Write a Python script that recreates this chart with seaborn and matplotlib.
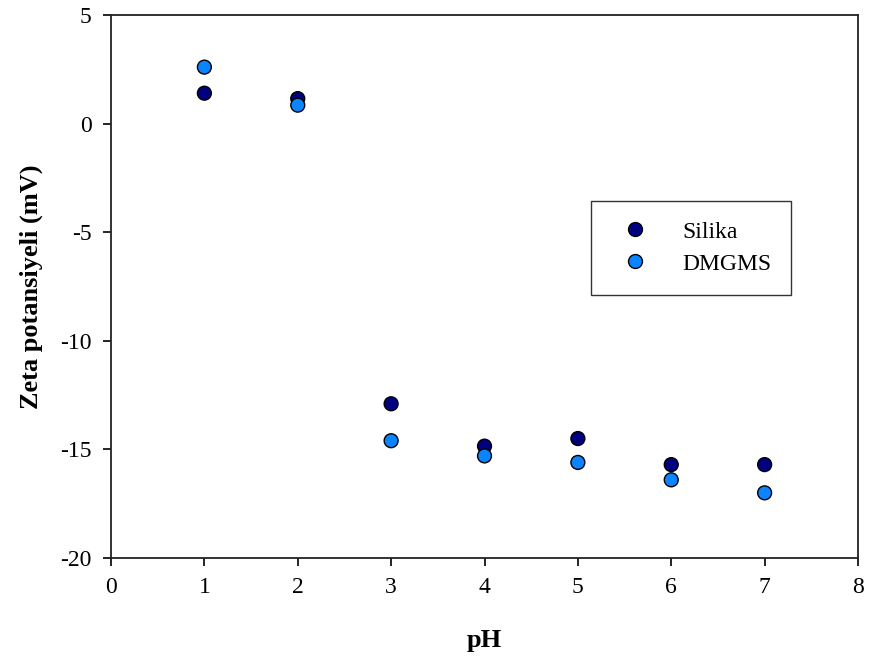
import matplotlib
matplotlib.use("Agg")
import matplotlib.pyplot as plt
import seaborn as sns
import pandas as pd

ph = [1, 2, 3, 4, 5, 6, 7]
silika = [1.4, 1.15, -12.9, -14.85, -14.5, -15.7, -15.7]
dmgms = [2.6, 0.85, -14.6, -15.3, -15.6, -16.4, -17.0]
series_names = ["Silika", "DMGMS"]
colors = {"Silika": "#000080", "DMGMS": "#0A84FF"}

df = pd.concat([
    pd.DataFrame({"pH": ph, "zeta": silika, "sample": "Silika"}),
    pd.DataFrame({"pH": ph, "zeta": dmgms, "sample": "DMGMS"}),
])

sns.set_theme(style="white")
plt.rcParams["font.family"] = ["Liberation Serif", "DejaVu Serif"]
plt.rcParams["axes.unicode_minus"] = False
plt.rcParams["text.color"] = "black"
plt.rcParams["axes.labelcolor"] = "black"

fig = plt.figure(figsize=(8.73, 6.62), dpi=100)
ax = fig.add_axes([111 / 873, 1 - 558 / 662, (858 - 111) / 873, (558 - 15) / 662])

sns.scatterplot(data=df, x="pH", y="zeta", hue="sample", hue_order=series_names,
                palette=colors, s=100, edgecolor="black", linewidth=1.0,
                ax=ax, zorder=3)

ax.set_xlim(0, 8)
ax.set_ylim(-20, 5)
ax.set_xticks(range(0, 9))
ax.set_yticks(range(-20, 6, 5))
ax.tick_params(axis="both", which="both", direction="out", length=6, width=1.2,
               labelsize=17, colors="black", top=False, right=False, pad=8)
ax.tick_params(axis="both", bottom=True, left=True)
for sp in ax.spines.values():
    sp.set_color("#222222")
    sp.set_linewidth(1.3)

ax.set_xlabel("pH", fontsize=19, fontweight="bold", labelpad=22)
ax.set_ylabel("Zeta potansiyeli (mV)", fontsize=19, fontweight="bold", labelpad=12)

leg = ax.legend(loc="upper left", bbox_to_anchor=((591 - 111) / 747, (558 - 201) / 543),
                borderaxespad=0, frameon=True, fancybox=False, fontsize=17,
                handletextpad=1.0, borderpad=0.85, labelspacing=0.45, markerscale=1.0)
leg.get_frame().set_edgecolor("black")
leg.get_frame().set_linewidth(1.0)

fig.savefig("out.png", dpi=100)
